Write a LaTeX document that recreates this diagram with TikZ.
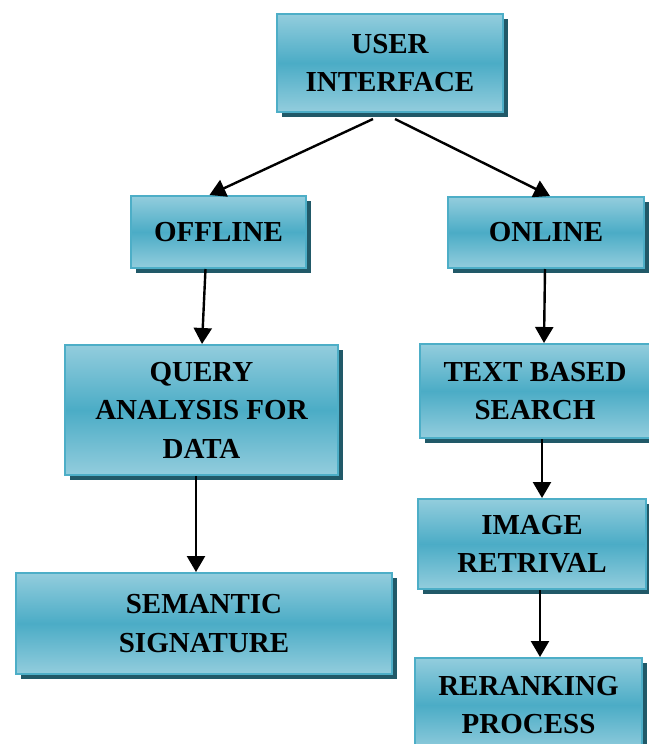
\documentclass[tikz,border=0pt]{standalone}
\usepackage{fontspec}
\setmainfont{Liberation Serif}
\usepackage{tikz}
\usetikzlibrary{shadows, arrows.meta, positioning}
\usepackage{xcolor}
\definecolor{boxlight}{HTML}{93CDDD}
\definecolor{boxmid}{HTML}{4BACC6}
\definecolor{boxline}{HTML}{4DAEC7}
\definecolor{boxshadow}{HTML}{215968}
\tikzstyle{arrow}     = [line width=2.4pt,->,>={Triangle[length=16pt,width=18pt]}]
\tikzstyle{block}     = [rectangle, draw=boxline, line width=2pt, top color=boxlight, bottom color=boxlight, middle color=boxmid, drop shadow={shadow xshift=5pt, shadow yshift=-5pt, fill=boxshadow, opacity=1}, align=center, inner sep=2pt, font=\fontsize{29}{38.5}\selectfont\bfseries]

\begin{document}
\begin{tikzpicture}[x=1pt,y=-1pt]
\useasboundingbox (0,0) rectangle (648,744);

\node[block,minimum width=226pt,minimum height=98pt]  (UI)       at (390,63)    {USER\\INTERFACE};
\node[block,minimum width=175pt,minimum height=72pt]  (OFFLINE)  at (218.5,232) {OFFLINE};
\node[block,minimum width=196pt,minimum height=71pt]  (ONLINE)   at (546,232.5) {ONLINE};
\node[block,minimum width=273pt,minimum height=130pt] (QUERY)    at (201.5,410) {QUERY\\ANALYSIS FOR\\DATA};
\node[block,minimum width=230pt,minimum height=94pt]  (TEXT)     at (535,391)   {TEXT BASED\\SEARCH};
\node[block,minimum width=228pt,minimum height=90pt]  (IMAGE)    at (532,544)   {IMAGE\\RETRIVAL};
\node[block,minimum width=376pt,minimum height=101pt] (SEMANTIC) at (204,623.5) {SEMANTIC\\SIGNATURE};
\node[block,minimum width=227pt,minimum height=94pt]  (RERANK)   at (528.5,705) {RERANKING\\PROCESS};

\draw[arrow] ([xshift=-17pt,yshift=-6pt]UI.south) -- ([xshift=-9pt]OFFLINE.north);
\draw[arrow] ([xshift=5pt,yshift=-6pt]UI.south) -- ([xshift=4pt]ONLINE.north);
\draw[arrow] ([xshift=-13pt]OFFLINE.south) -- ([xshift=0.5pt]QUERY.north);
\draw[arrow] ([xshift=-1pt]ONLINE.south) -- ([xshift=9pt]TEXT.north);
\draw[arrow] ([xshift=-5.5pt]QUERY.south) -- ([xshift=-8pt]SEMANTIC.north);
\draw[arrow] ([xshift=7pt]TEXT.south) -- ([xshift=10pt]IMAGE.north);
\draw[arrow] ([xshift=8pt]IMAGE.south) -- ([xshift=11.5pt]RERANK.north);

\end{tikzpicture}
\end{document}
